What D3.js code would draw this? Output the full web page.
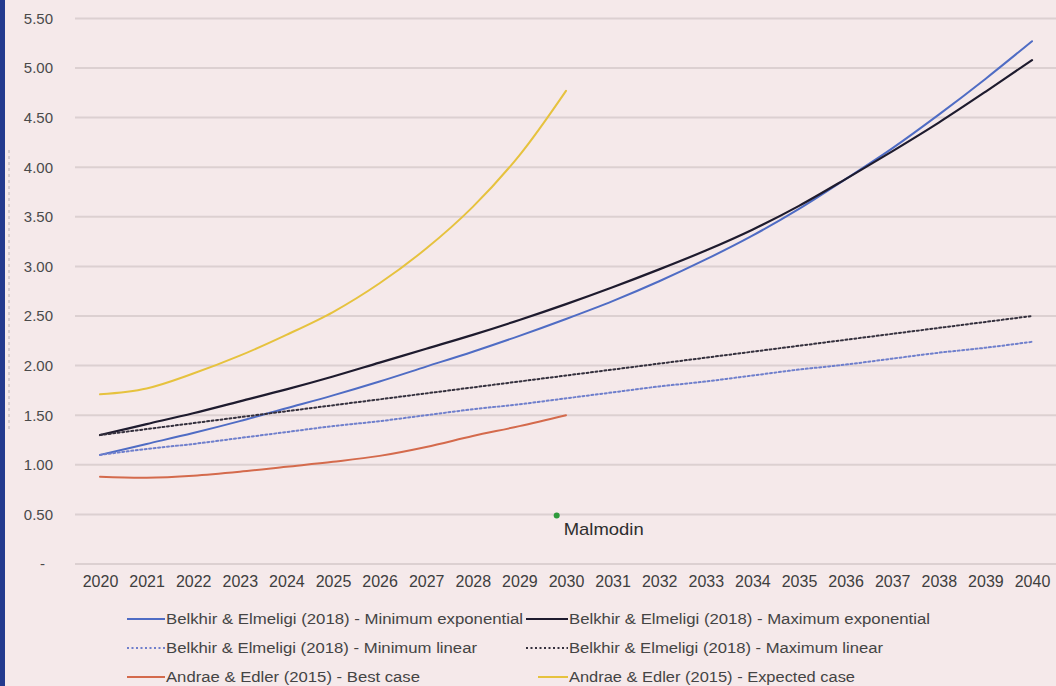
<!DOCTYPE html>
<html>
<head>
<meta charset="utf-8">
<script src="https://cdn.jsdelivr.net/npm/d3@7"></script>
<style>
  body { margin: 0; background: #f5e9ea; }
  svg { display: block; font-family: "Liberation Sans", Arial, sans-serif; }
</style>
</head>
<body>
<svg id="chart" width="1056" height="686"></svg>
<script>
// years on the x axis
var years = d3.range(2020, 2041);
var yTicks = [0, 0.5, 1, 1.5, 2, 2.5, 3, 3.5, 4, 4.5, 5, 5.5];

var minExponential = [1.10, 1.21, 1.32, 1.44, 1.57, 1.70, 1.84, 1.99, 2.14, 2.30, 2.47,
                      2.65, 2.85, 3.07, 3.31, 3.58, 3.88, 4.19, 4.53, 4.89, 5.27];
var maxExponential = [1.30, 1.41, 1.52, 1.64, 1.76, 1.89, 2.03, 2.17, 2.31, 2.46, 2.62,
                      2.79, 2.97, 3.16, 3.37, 3.61, 3.88, 4.16, 4.45, 4.76, 5.08];
var minLinear = [1.10, 1.16, 1.21, 1.27, 1.33, 1.39, 1.44, 1.50, 1.56, 1.61, 1.67,
                 1.73, 1.79, 1.84, 1.90, 1.96, 2.01, 2.07, 2.13, 2.18, 2.24];
var maxLinear = [1.30, 1.36, 1.42, 1.48, 1.54, 1.60, 1.66, 1.72, 1.78, 1.84, 1.90,
                 1.96, 2.02, 2.08, 2.14, 2.20, 2.26, 2.32, 2.38, 2.44, 2.50];
// Andrae & Edler only run 2020-2030
var bestCase = [0.88, 0.87, 0.89, 0.93, 0.98, 1.03, 1.09, 1.18, 1.29, 1.39, 1.50];
var expectedCase = [1.71, 1.77, 1.92, 2.10, 2.31, 2.54, 2.83, 3.18, 3.60, 4.12, 4.77];
var malmodin = {year: 2029.8, value: 0.49, label: 'Malmodin'};

var series = [
    {name: 'Belkhir & Elmeligi (2018) - Minimum exponential', values: minExponential, color: '#4f6cc4', dash: null, width: 2},
    {name: 'Belkhir & Elmeligi (2018) - Maximum exponential', values: maxExponential, color: '#1e1b2e', dash: null, width: 2.2},
    {name: 'Belkhir & Elmeligi (2018) - Minimum linear', values: minLinear, color: '#6f7fcc', dash: '2,2.5', width: 2},
    {name: 'Belkhir & Elmeligi (2018) - Maximum linear', values: maxLinear, color: '#34303d', dash: '2,2.5', width: 2},
    {name: 'Andrae & Edler (2015) - Best case', values: bestCase, color: '#d46a4c', dash: null, width: 2},
    {name: 'Andrae & Edler (2015) - Expected case', values: expectedCase, color: '#e6c23e', dash: null, width: 2}
];

var svg = d3.select('#chart');

var x = d3.scaleLinear().domain([2020, 2040]).range([100, 1032]);
var y = d3.scaleLinear().domain([0, 5.5]).range([564, 18.4]);

// left frame edge
svg.append('rect')
    .attr('x', 0).attr('y', 0)
    .attr('width', 5).attr('height', 686)
    .attr('fill', '#233a8e');
svg.append('line')
    .attr('x1', 9).attr('x2', 9)
    .attr('y1', 150).attr('y2', 430)
    .attr('stroke', '#b8b0b2')
    .attr('stroke-width', 1)
    .attr('stroke-dasharray', '3,3');

// gridlines
svg.append('g')
    .selectAll('line')
    .data(yTicks)
    .join('line')
    .attr('x1', 75).attr('x2', 1056)
    .attr('y1', function(d) { return y(d); })
    .attr('y2', function(d) { return y(d); })
    .attr('stroke', '#dcd0d1')
    .attr('stroke-width', 2);

// y axis labels
var yAxis = d3.axisLeft(y)
    .tickValues(yTicks)
    .tickSize(0)
    .tickPadding(0)
    .tickFormat(function(d) { return d === 0 ? '-' : d3.format('.2f')(d); });

svg.append('g')
    .attr('transform', 'translate(53,0)')
    .call(yAxis)
    .call(function(g) { g.select('.domain').remove(); })
    .selectAll('text')
    .attr('font-size', 15)
    .attr('fill', '#4a4a4a')
    .attr('font-family', '"Liberation Sans", Arial, sans-serif')
    .attr('dx', function(d) { return d === 0 ? -8 : 0; });

// x axis labels
var xAxis = d3.axisBottom(x)
    .tickValues(years)
    .tickSize(0)
    .tickPadding(0)
    .tickFormat(d3.format('d'));

svg.append('g')
    .attr('transform', 'translate(0,576)')
    .call(xAxis)
    .call(function(g) { g.select('.domain').remove(); })
    .selectAll('text')
    .attr('font-size', 16)
    .attr('fill', '#3e3e3e')
    .attr('font-family', '"Liberation Sans", Arial, sans-serif');

// the lines
var line = d3.line()
    .x(function(d, i) { return x(years[i]); })
    .y(function(d) { return y(d); })
    .curve(d3.curveCatmullRom.alpha(0.5));

svg.append('g')
    .selectAll('path')
    .data(series)
    .join('path')
    .attr('d', function(s) { return line(s.values); })
    .attr('fill', 'none')
    .attr('stroke', function(s) { return s.color; })
    .attr('stroke-width', function(s) { return s.width; })
    .attr('stroke-dasharray', function(s) { return s.dash; })
    .attr('stroke-linecap', 'round');

// Malmodin point
svg.append('circle')
    .attr('cx', x(malmodin.year))
    .attr('cy', y(malmodin.value))
    .attr('r', 3)
    .attr('fill', '#2e9a3c');
svg.append('text')
    .attr('x', x(malmodin.year) + 7)
    .attr('y', y(malmodin.value) + 20)
    .attr('font-size', 17)
    .attr('fill', '#2e2e2e')
    .attr('textLength', 80)
    .attr('lengthAdjust', 'spacingAndGlyphs')
    .text(malmodin.label);

// legend, two columns x three rows
var legend = svg.append('g');
var legendPos = [
    {lx: 127, tx: 166, y: 619, w: 357},
    {lx: 526, tx: 569, y: 619, w: 361},
    {lx: 127, tx: 166, y: 648, w: 311},
    {lx: 526, tx: 569, y: 648, w: 314},
    {lx: 127, tx: 166, y: 677, w: 254},
    {lx: 538, tx: 569, y: 677, w: 286}
];

series.forEach(function(s, i)
{
    var p = legendPos[i];
    legend.append('line')
        .attr('x1', p.lx).attr('x2', p.tx - 1)
        .attr('y1', p.y).attr('y2', p.y)
        .attr('stroke', s.color)
        .attr('stroke-width', 2)
        .attr('stroke-dasharray', s.dash);
    legend.append('text')
        .attr('x', p.tx)
        .attr('y', p.y + 5)
        .attr('font-size', 14)
        .attr('fill', '#444')
        .attr('textLength', p.w)
        .attr('lengthAdjust', 'spacingAndGlyphs')
        .text(s.name);
});
</script>
</body>
</html>
